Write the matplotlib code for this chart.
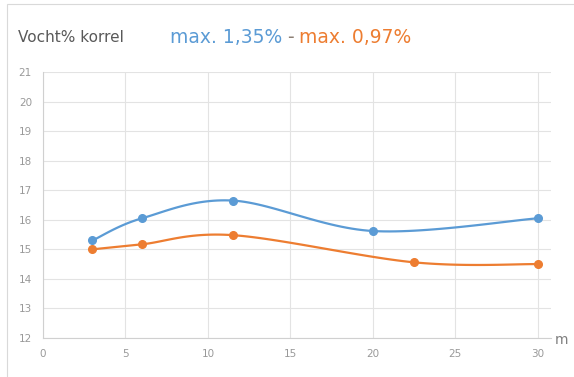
import numpy as np
import matplotlib.pyplot as plt
from matplotlib.patches import Rectangle

# afstand (m) en vochtpercentage
blue_x = [3, 6, 11.5, 20, 30]
blue_y = [15.3, 16.05, 16.65, 15.62, 16.05]
orange_x = [3, 6, 11.5, 22.5, 30]
orange_y = [15.0, 15.17, 15.48, 14.56, 14.5]

y_ticks = list(range(12, 22))
x_ticks = [0, 5, 10, 15, 20, 25, 30]

BLUE = "#5b9bd5"
ORANGE = "#ed7d31"
GREY = "#7f7f7f"
YSCALE = 1.8  # smooth in screen-like space


def smooth(xs, ys, n=30):
    # Catmull-Rom via Bezier control points, like Excel's smoothed lines
    p = np.column_stack([xs, np.array(ys) * YSCALE])
    out = []
    for i in range(len(p) - 1):
        p0 = p[max(i - 1, 0)]
        p1 = p[i]
        p2 = p[i + 1]
        p3 = p[min(i + 2, len(p) - 1)]
        c1 = p1 + (p2 - p0) / 6
        c2 = p2 - (p3 - p1) / 6
        t = np.linspace(0, 1, n)[:, None]
        seg = ((1 - t) ** 3) * p1 + 3 * ((1 - t) ** 2) * t * c1 + 3 * (1 - t) * t ** 2 * c2 + t ** 3 * p2
        out.append(seg)
    out = np.vstack(out)
    return out[:, 0], out[:, 1] / YSCALE


fig = plt.figure(figsize=(5.74, 3.77), dpi=100)
ax = fig.add_axes([43 / 574, 1 - 338 / 377, (551 - 43) / 574, (338 - 72) / 377])

for xs, ys, c in [(blue_x, blue_y, BLUE), (orange_x, orange_y, ORANGE)]:
    sx, sy = smooth(xs, ys)
    ax.plot(sx, sy, color=c, lw=1.6, zorder=3)
    ax.plot(xs, ys, "o", color=c, ms=5.5, zorder=4)

ax.set_xlim(0, 30.8)
ax.set_ylim(12, 21)
ax.set_xticks(x_ticks)
ax.set_yticks(y_ticks)
ax.grid(True, color="#e3e3e3", lw=0.8)
ax.set_axisbelow(True)
for s in ["top", "right"]:
    ax.spines[s].set_visible(False)
for s in ["left", "bottom"]:
    ax.spines[s].set_color("#d0d0d0")
ax.tick_params(length=0, labelsize=7.5, labelcolor="#999999", pad=8)

fig.text(562 / 574, 1 - 340 / 377, "m", fontsize=10, color=GREY, ha="center", va="center")

fig.text(18 / 574, 1 - 37 / 377, "Vocht% korrel", fontsize=11, color="#595959", va="center")
fig.text(170 / 574, 1 - 43 / 377, "max. 1,35%", fontsize=13.5, color=BLUE, va="baseline")
fig.text(287 / 574, 1 - 43 / 377, "-", fontsize=13.5, color="#8c7f74", va="baseline")
fig.text(299 / 574, 1 - 43 / 377, "max. 0,97%", fontsize=13.5, color=ORANGE, va="baseline")

fig.patches.append(Rectangle((7 / 574, -0.1), 1.2, 1 - 4 / 377 + 0.1, transform=fig.transFigure,
                             fill=False, edgecolor="#d9d9d9", lw=0.8))

fig.savefig("out.png", dpi=100)
